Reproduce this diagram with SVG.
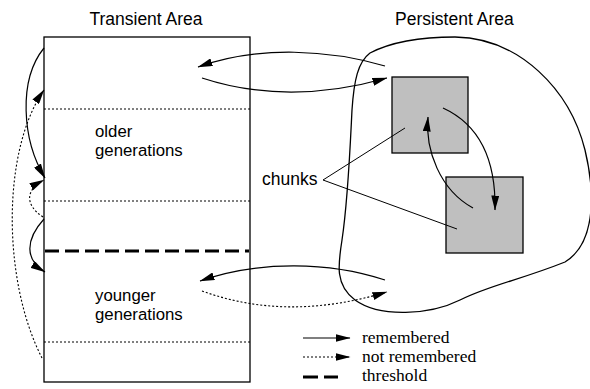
<svg xmlns="http://www.w3.org/2000/svg" width="590" height="389" viewBox="0 0 590 389">
  <style>
    .sans { font-family: "Liberation Sans", Arial, sans-serif; font-size: 17.5px; fill: #000; }
    .gen { font-size: 16.8px; }
    .serif { font-family: "Liberation Serif", "Times New Roman", serif; font-size: 17.5px; fill: #000; }
    .frame { fill: #fff; stroke: #000; stroke-width: 1.3; }
    .sep { fill: none; stroke: #000; stroke-width: 1; stroke-dasharray: 2 2; }
    .thresh { fill: none; stroke: #000; stroke-width: 2.8; stroke-dasharray: 14 6; }
    .chunk { fill: #bfbfbf; stroke: #000; stroke-width: 1.3; }
    .blob { fill: none; stroke: #000; stroke-width: 1.3; }
    .ref { fill: none; stroke: #000; stroke-width: 1.2; marker-end: url(#head); }
    .weak { fill: none; stroke: #000; stroke-width: 1.1; stroke-dasharray: 2 2; marker-end: url(#head); }
    .pointer { fill: none; stroke: #000; stroke-width: 1; }
  </style>
  <defs>
    <marker id="head" markerUnits="userSpaceOnUse" markerWidth="15" markerHeight="8" viewBox="0 0 15 8" refX="14.5" refY="4" orient="auto">
      <path d="M0,0 L15,4 L0,8 Z" fill="#000"/>
    </marker>
  </defs>

  <rect width="590" height="389" fill="#fff"/>

  <!-- transient area: generation stack -->
  <g id="transient-area">
    <rect class="frame" x="44" y="37" width="206" height="345"/>
    <line class="sep" x1="44" y1="109" x2="250" y2="109"/>
    <line class="sep" x1="44" y1="201" x2="250" y2="201"/>
    <line class="sep" x1="44" y1="342" x2="250" y2="342"/>
    <line class="thresh" x1="45" y1="251" x2="249" y2="251"/>
    <text class="sans" x="146" y="25" text-anchor="middle">Transient Area</text>
  </g>

  <g id="older-generations">
    <text class="sans gen" x="95" y="137">older</text>
    <text class="sans gen" x="95" y="156">generations</text>
  </g>

  <g id="younger-generations">
    <text class="sans gen" x="95" y="301">younger</text>
    <text class="sans gen" x="95" y="320">generations</text>
  </g>

  <!-- persistent area -->
  <g id="persistent-area">
    <path class="blob" d="M370,53 C395,40 430,37 455,37 C520,38 570,90 585,150 C597,200 593,245 565,262 C520,280 490,285 460,300 C430,315 380,318 355,300 C335,285 338,265 342,240 C348,200 350,150 352,110 C354,80 358,62 370,53 Z"/>
    <text class="sans" x="395" y="25">Persistent Area</text>
  </g>

  <g id="chunk-1">
    <rect class="chunk" x="392" y="77" width="76" height="76"/>
  </g>
  <g id="chunk-2">
    <rect class="chunk" x="446" y="177" width="77" height="76"/>
  </g>

  <g id="chunks-label">
    <text class="sans" x="262" y="185">chunks</text>
    <polyline class="pointer" points="405,128 323,180 457,229"/>
  </g>

  <!-- references between areas and generations -->
  <g id="connectors">
    <path class="ref" d="M44,48 C18,80 22,140 45,178"/>
    <path class="weak" d="M42,358 C2,280 2,150 44,90"/>
    <path class="weak" d="M43,217 C25,205 25,190 44,180"/>
    <path class="ref" d="M44,219 C25,240 25,260 45,272"/>

    <path class="ref" d="M385,66 C330,50 260,45 198,67"/>
    <path class="ref" d="M202,78 C260,97 320,97 387,78"/>

    <path class="ref" d="M385,280 C330,262 260,260 200,281"/>
    <path class="weak" d="M202,291 C260,312 320,312 387,292"/>

    <path class="ref" d="M443,108 C480,125 496,160 495,210"/>
    <path class="ref" d="M473,208 C440,190 425,150 428,117"/>
  </g>

  <!-- key -->
  <g id="legend">
    <line class="ref" x1="303" y1="338" x2="350" y2="338"/>
    <line class="weak" x1="303" y1="357" x2="350" y2="357"/>
    <line class="thresh" x1="303" y1="377" x2="338" y2="377" style="stroke-dasharray: 15 6"/>
    <text class="serif" x="362" y="343">remembered</text>
    <text class="serif" x="362" y="362">not remembered</text>
    <text class="serif" x="362" y="381">threshold</text>
  </g>
</svg>
